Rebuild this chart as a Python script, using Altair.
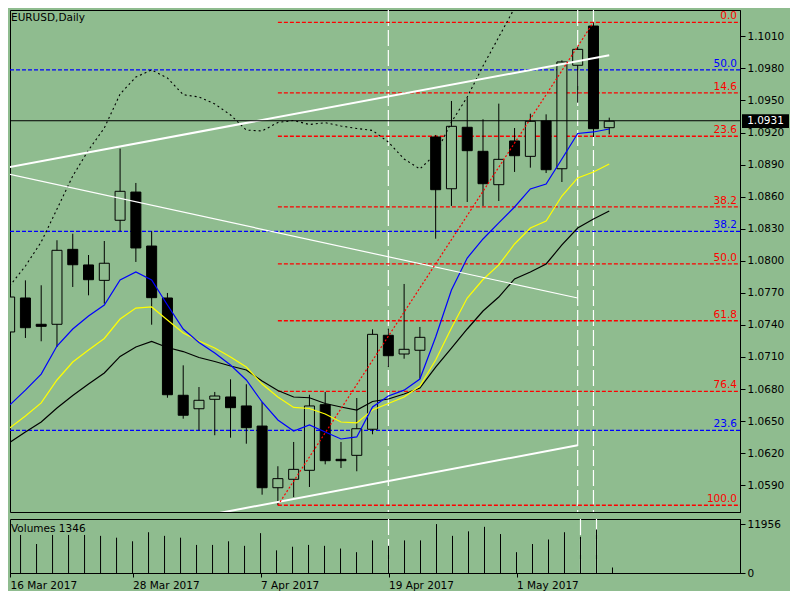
import altair as alt
import pandas as pd

BG = "#8FBC8F"
FONT = "DejaVu Sans"
FS = 10.5

# ---- candles (bar index 0 = 16 Mar 2017 ... 38 = 9 May 2017) ----
opens = [1.07334, 1.07652, 1.07406, 1.07406, 1.08107, 1.07961, 1.07817, 1.08379, 1.08643, 1.08138,
         1.07652, 1.06742, 1.06616, 1.06704, 1.06726, 1.06642, 1.06454, 1.05877, 1.05956, 1.06040,
         1.06654, 1.06143, 1.06180, 1.06424, 1.07303, 1.07128, 1.07163, 1.09158, 1.08674, 1.09249,
         1.09024, 1.08712, 1.09121, 1.08977, 1.09308, 1.08861, 1.09829, 1.10196, 1.09245]
highs = [1.07720, 1.07817, 1.07771, 1.08192, 1.08253, 1.08054, 1.08185, 1.09049, 1.08728, 1.08276,
         1.07699, 1.07022, 1.06819, 1.06773, 1.06891, 1.06845, 1.06679, 1.06078, 1.06305, 1.06747,
         1.06773, 1.06305, 1.06716, 1.07359, 1.07365, 1.07783, 1.07381, 1.09177, 1.09495, 1.09526,
         1.09324, 1.09470, 1.09242, 1.09376, 1.09370, 1.09875, 1.10000, 1.10231, 1.09339]
lows = [1.07280, 1.07278, 1.07247, 1.07194, 1.07755, 1.07677, 1.07599, 1.08276, 1.07989, 1.07402,
        1.06719, 1.06523, 1.06414, 1.06368, 1.06345, 1.06289, 1.05812, 1.05713, 1.05790, 1.05884,
        1.06096, 1.06062, 1.06031, 1.06377, 1.07006, 1.07084, 1.06897, 1.08207, 1.08513, 1.08550,
        1.08513, 1.08559, 1.08831, 1.08871, 1.08821, 1.08737, 1.09479, 1.09158, 1.09183]
closes = [1.07661, 1.07374, 1.07387, 1.08098, 1.07963, 1.07823, 1.07977, 1.08650, 1.08120, 1.07655,
          1.06747, 1.06555, 1.06695, 1.06735, 1.06626, 1.06439, 1.05877, 1.05962, 1.06049, 1.06642,
          1.06130, 1.06130, 1.06429, 1.07312, 1.07112, 1.07172, 1.07284, 1.08665, 1.09258, 1.09030,
          1.08721, 1.08949, 1.08983, 1.09305, 1.08852, 1.09860, 1.09978, 1.09236, 1.09306]

# ---- moving averages ----
ma_blue = [1.06650, 1.06790, 1.06940, 1.07203, 1.07362, 1.07484, 1.07586, 1.07820, 1.07895, 1.07820,
           1.07586, 1.07362, 1.07236, 1.07137, 1.07025, 1.06885, 1.06679, 1.06511, 1.06408, 1.06464,
           1.06398, 1.06333, 1.06352, 1.06632, 1.06735, 1.06790, 1.06894, 1.07287, 1.07727, 1.08026,
           1.08204, 1.08354, 1.08503, 1.08672, 1.08718, 1.08952, 1.09191, 1.09205, 1.09233]
ma_yellow = [1.06436, 1.06548, 1.06670, 1.06885, 1.07053, 1.07165, 1.07273, 1.07455, 1.07558, 1.07568,
             1.07446, 1.07324, 1.07250, 1.07184, 1.07100, 1.07006, 1.06847, 1.06726, 1.06628, 1.06618,
             1.06567, 1.06492, 1.06483, 1.06604, 1.06665, 1.06726, 1.06829, 1.07072, 1.07371, 1.07652,
             1.07825, 1.07961, 1.08157, 1.08307, 1.08372, 1.08606, 1.08775, 1.08831, 1.08905]
ma_black = [1.06300, 1.06398, 1.06492, 1.06623, 1.06740, 1.06847, 1.06950, 1.07105, 1.07194, 1.07245,
            1.07189, 1.07151, 1.07095, 1.07058, 1.07016, 1.06978, 1.06875, 1.06787, 1.06726, 1.06719,
            1.06665, 1.06632, 1.06604, 1.06684, 1.06707, 1.06754, 1.06810, 1.07006, 1.07184, 1.07362,
            1.07530, 1.07661, 1.07830, 1.07895, 1.07970, 1.08148, 1.08307, 1.08391, 1.08466]
band_upper = [1.07764, 1.07951, 1.08176, 1.08484, 1.08793, 1.09036, 1.09242, 1.09560, 1.09719, 1.09785,
              1.09710, 1.09554, 1.09532, 1.09467, 1.09364, 1.09223, 1.09214, 1.09294, 1.09312, 1.09275,
              1.09292, 1.09261, 1.09238, 1.09219, 1.09111, 1.08952, 1.08859, 1.08999, 1.09298, 1.09532,
              1.09822, 1.10093, 1.10365, 1.10636]

volumes = [9000, 9300, 7085, 9300, 9300, 9300, 9080, 8635, 7750, 9965,
           9080, 8635, 6865, 6865, 7750, 6640, 9740, 5535, 6420, 6865,
           6640, 5980, 5090, 7970, 6640, 7970, 7970, 11956, 9080, 10185,
           11290, 9520, 5090, 7085, 8190, 9965, 8855, 10630, 1346]

tick_pos = [0.34, 8, 16, 24, 32]
tick_labels = ["16 Mar 2017", "28 Mar 2017", "7 Apr 2017", "19 Apr 2017", "1 May 2017"]
price_ticks = [1.0590, 1.0620, 1.0650, 1.0680, 1.0710, 1.0740, 1.0770, 1.0800,
               1.0830, 1.0860, 1.0890, 1.0920, 1.0950, 1.0980, 1.1010]
vol_ticks = [0, 11956]

fib_red_names = ["0.0", "14.6", "23.6", "38.2", "50.0", "61.8", "76.4", "100.0"]
fib_red_prices = [1.10231, 1.09571, 1.09165, 1.08505, 1.07972, 1.07439, 1.06779, 1.05713]
fib_red_start = 17
fib_blue_names = ["50.0", "38.2", "23.6"]
fib_blue_prices = [1.09785, 1.08276, 1.06414]

trend_thick_i = [0, 38]
trend_thick_p = [1.08877, 1.09922]
trend_thin_i = [0, 36]
trend_thin_p = [1.08809, 1.07652]
trend_low_i = [0, 36]
trend_low_p = [1.05270, 1.06274]
fib_diag_i = [17, 37]
fib_diag_p = [1.05713, 1.10231]
vlines = [24, 36, 37]
current_price = 1.0931
price_box = [1.09370, 1.09242]

W, H, HV = 730, 502, 54
xs = alt.Scale(domain=[0.34, 45.97], nice=False, zero=False)
ys = alt.Scale(domain=[1.05650, 1.10346], nice=False, zero=False)
vs = alt.Scale(domain=[0, 13200], nice=False, zero=False)

price_axis = alt.Axis(orient="right", values=price_ticks, format=".4f", title=None, grid=False,
                      tickSize=5, tickColor="black", domainColor="black", labelColor="black",
                      labelFont=FONT, labelFontSize=FS, labelPadding=2)


def X(f):
    return alt.X(f, type="quantitative", scale=xs, axis=None)


def Y(f):
    return alt.Y(f, type="quantitative", scale=ys, axis=price_axis)


cdf = pd.DataFrame({"i": list(range(len(opens))), "o": opens, "h": highs, "l": lows, "c": closes})

wicks = alt.Chart(cdf).mark_rule(color="black", strokeWidth=1, clip=True).encode(
    x=X("i"), y=Y("l"), y2="h")
bodies = alt.Chart(cdf).mark_bar(size=10, stroke="black", strokeWidth=1, clip=True).encode(
    x=X("i"), y=Y("o"), y2="c",
    fill=alt.condition("datum.c >= datum.o", alt.value(BG), alt.value("black")))

red_df = pd.DataFrame({"p": fib_red_prices, "n": fib_red_names, "s": fib_red_start})
blue_df = pd.DataFrame({"p": fib_blue_prices, "n": fib_blue_names})

red_lines = alt.Chart(red_df).mark_rule(color="#FF0000", strokeDash=[4, 2], strokeWidth=1.3).encode(
    x=X("s"), x2=alt.value(W), y=Y("p"))
blue_lines = alt.Chart(blue_df).mark_rule(color="#0000FF", strokeDash=[4, 2], strokeWidth=1.3).encode(
    x=alt.value(0), x2=alt.value(W), y=Y("p"))
red_text = alt.Chart(red_df).mark_text(color="#FF0000", font=FONT, fontSize=FS, align="right",
                                       baseline="alphabetic", dy=-3).encode(
    x=alt.value(W - 3), y=Y("p"), text="n")
blue_text = alt.Chart(blue_df).mark_text(color="#0000FF", font=FONT, fontSize=FS, align="right",
                                         baseline="alphabetic", dy=-3).encode(
    x=alt.value(W - 3), y=Y("p"), text="n")

cur_df = pd.DataFrame({"p": [current_price], "hi": [price_box[0]], "lo": [price_box[1]],
                       "t": [f"{current_price:.4f}"]})
cur_line = alt.Chart(cur_df).mark_rule(color="black", strokeWidth=1).encode(
    x=alt.value(0), x2=alt.value(W), y=Y("p"))
cur_box = alt.Chart(cur_df).mark_rect(color="black").encode(
    x=alt.value(W + 2), x2=alt.value(W + 49), y=Y("hi"), y2="lo")
cur_text = alt.Chart(cur_df).mark_text(color="white", font=FONT, fontSize=FS, align="center",
                                       baseline="middle").encode(
    x=alt.value(W + 25.5), y=Y("p"), text="t")


def ma_layer(vals, color, dash=None, width=1.2):
    d = pd.DataFrame({"i": list(range(len(vals))), "v": vals})
    kw = dict(color=color, strokeWidth=width, clip=True)
    if dash:
        kw["strokeDash"] = dash
    return alt.Chart(d).mark_line(**kw).encode(x=X("i"), y=Y("v"))


def seg(ii, pp, color, width, dash=None):
    d = pd.DataFrame({"i": ii, "v": pp})
    kw = dict(color=color, strokeWidth=width, clip=True)
    if dash:
        kw["strokeDash"] = dash
    return alt.Chart(d).mark_line(**kw).encode(x=X("i"), y=Y("v"))


vdf = pd.DataFrame({"i": vlines})
vrules_main = alt.Chart(vdf).mark_rule(color="white", strokeDash=[16, 4], strokeWidth=1.2).encode(x=X("i"))

title_df = pd.DataFrame({"t": ["EURUSD,Daily"]})
title = alt.Chart(title_df).mark_text(font=FONT, fontSize=FS, color="black", align="left",
                                      baseline="top").encode(
    x=alt.value(1), y=alt.value(3), text="t")

main = alt.layer(
    vrules_main, red_lines, blue_lines, wicks, bodies,
    ma_layer(ma_black, "black"), ma_layer(ma_yellow, "#FFFF00"), ma_layer(ma_blue, "#0000FF"),
    ma_layer(band_upper, "black", [2, 3], 1.1),
    seg(trend_thin_i, trend_thin_p, "white", 1.2),
    seg(trend_thick_i, trend_thick_p, "white", 2),
    seg(trend_low_i, trend_low_p, "white", 2),
    seg(fib_diag_i, fib_diag_p, "#FF0000", 1.2, [2, 2]),
    cur_line, red_text, blue_text, cur_box, cur_text, title,
).properties(width=W, height=H)

# ---- volume panel ----
label_expr = " : ".join(f"datum.value == {p} ? '{l}'" for p, l in zip(tick_pos, tick_labels)) + " : ''"
vx_axis = alt.Axis(orient="bottom", values=tick_pos, labelExpr=label_expr, labelAlign="left",
                   tickSize=4, labelPadding=3, grid=False, title=None, labelFont=FONT,
                   labelFontSize=FS, labelColor="black", tickColor="black", domainColor="black",
                   labelOverlap=False)
vy_axis = alt.Axis(orient="right", values=vol_ticks, format="d", title=None, grid=False, tickSize=5,
                   tickColor="black", domainColor="black", labelColor="black", labelFont=FONT,
                   labelFontSize=FS, labelPadding=2)

voldf = pd.DataFrame({"i": list(range(len(volumes))), "v": volumes, "z": 0})
vrules_vol = alt.Chart(vdf).mark_rule(color="white", strokeDash=[16, 4], strokeWidth=1.2).encode(
    x=alt.X("i:Q", scale=xs, axis=vx_axis))
vbars = alt.Chart(voldf).mark_rule(color="black", strokeWidth=1, clip=True).encode(
    x=alt.X("i:Q", scale=xs, axis=vx_axis),
    y=alt.Y("v:Q", scale=vs, axis=vy_axis), y2="z")
vtitle_df = pd.DataFrame({"t": [f"Volumes {volumes[-1]}"]})
vtitle = alt.Chart(vtitle_df).mark_text(font=FONT, fontSize=FS, color="black", align="left",
                                        baseline="top").encode(
    x=alt.value(1), y=alt.value(5), text="t")

vol = alt.layer(vrules_vol, vbars, vtitle).properties(width=W, height=HV)

chart = alt.vconcat(main, vol, spacing=3).properties(
    padding={"left": 0, "top": 0, "right": 0, "bottom": 0}
).configure(background=BG).configure_view(stroke="black", strokeWidth=1, fill=BG)

chart.save("out.html", embed_options={"renderer": "svg", "actions": False})
